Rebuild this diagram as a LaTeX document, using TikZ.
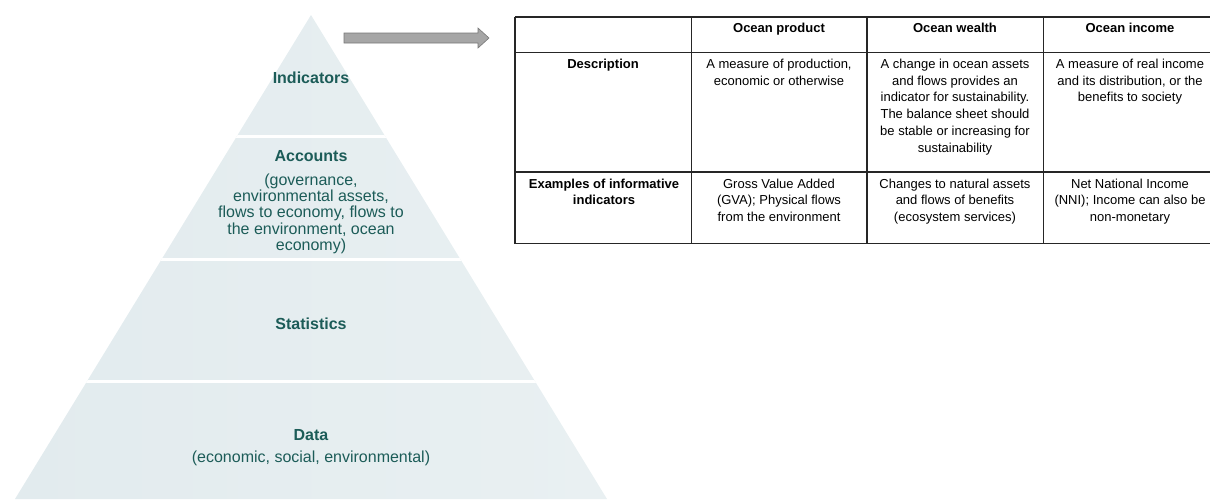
\documentclass[tikz,border=0pt]{standalone}
\usepackage{fontspec}
\setmainfont{Liberation Sans}
\definecolor{pyrtext}{RGB}{28,92,88}
\definecolor{pyrA}{RGB}{226,235,238}
\definecolor{pyrM}{RGB}{215,228,232}
\definecolor{pyrB}{RGB}{233,240,242}
\definecolor{arrowfill}{RGB}{166,166,166}
\definecolor{arrowedge}{RGB}{120,120,120}
\begin{document}
\begin{tikzpicture}[x=1pt,y=-1pt,
  pyrtitle/.style={font=\fontsize{16}{17}\selectfont\bfseries, text=pyrtext, inner sep=0pt, anchor=base},
  pyrsub/.style={font=\fontsize{16}{16.3}\selectfont, text=pyrtext, inner sep=0pt, anchor=base, align=center},
  cellhead/.style={font=\fontsize{13}{16.7}\selectfont\bfseries, inner sep=0pt, anchor=base, align=center},
  celltext/.style={font=\fontsize{13}{16.7}\selectfont, inner sep=0pt, anchor=base, align=center},
  gridline/.style={line width=1.1pt, black!85},
  sepline/.style={white, line width=3pt},
  blockarrow/.style={fill=arrowfill, draw=arrowedge, line width=0.6pt, line join=miter}]
\useasboundingbox (0,0) rectangle (1210,499);

% pyramid
\coordinate (apex) at (311,15);
\coordinate (bl) at (15,499);
\coordinate (br) at (607,499);
\shade[left color=pyrA, middle color=pyrM, right color=pyrB] (apex) -- (br) -- (bl) -- cycle;
\begin{scope}
  \clip (apex) -- (br) -- (bl) -- cycle;
  \draw[sepline] (0,136) -- (620,136);
  \draw[sepline] (0,259) -- (620,259);
  \draw[sepline] (0,381) -- (620,381);
\end{scope}

% (multi-line nodes: base anchor = baseline of last line)
\node[pyrtitle] (indicators) at (311,83.5) {Indicators};
\node[pyrtitle] (accounts) at (311,161.5) {Accounts};
\node[pyrsub] (accsub) at (311,250.5) {(governance,\\environmental assets,\\flows to economy, flows to\\the environment, ocean\\economy)};
\node[pyrtitle] (statistics) at (311,329) {Statistics};
\node[pyrtitle] (data) at (311,440) {Data};
\node[pyrsub] (datasub) at (311,462) {(economic, social, environmental)};

% arrow
\coordinate (atail) at (344,38);
\coordinate (atip) at (489,38);
\draw[blockarrow] (atail) ++(0,-5) -- (478,33) -- (478,28) -- (atip) -- (478,48) -- (478,43) -- (344,43) -- cycle;

% table grid
\begin{scope}
  \clip (500,0) rectangle (1210,499);
  \foreach \yy in {17,52.5,172,243.5} \draw[gridline] (515,\yy) -- (1220,\yy);
  \foreach \xx in {515,691.5,867,1043.5} \draw[gridline] (\xx,17) -- (\xx,243.5);
\end{scope}

\node[cellhead] (hprod) at (779,32.5) {Ocean product};
\node[cellhead] (hwealth) at (955,32.5) {Ocean wealth};
\node[cellhead] (hinc) at (1130,32.5) {Ocean income};

\node[cellhead] (rdesc) at (603,68.5) {Description};
\node[celltext] (dprod) at (779,85.2) {A measure of production,\\economic or otherwise};
\node[celltext] (dwealth) at (955,152) {A change in ocean assets\\and flows provides an\\indicator for sustainability.\\The balance sheet should\\be stable or increasing for\\sustainability};
\node[celltext] (dinc) at (1130,101.9) {A measure of real income\\and its distribution, or the\\benefits to society};

\node[cellhead] (rex) at (604,204.7) {Examples of informative\\indicators};
\node[celltext] (eprod) at (779,221.4) {Gross Value Added\\(GVA); Physical flows\\from the environment};
\node[celltext] (ewealth) at (955,221.4) {Changes to natural assets\\and flows of benefits\\(ecosystem services)};
\node[celltext] (einc) at (1130,221.4) {Net National Income\\(NNI); Income can also be\\non-monetary};
\end{tikzpicture}
\end{document}
